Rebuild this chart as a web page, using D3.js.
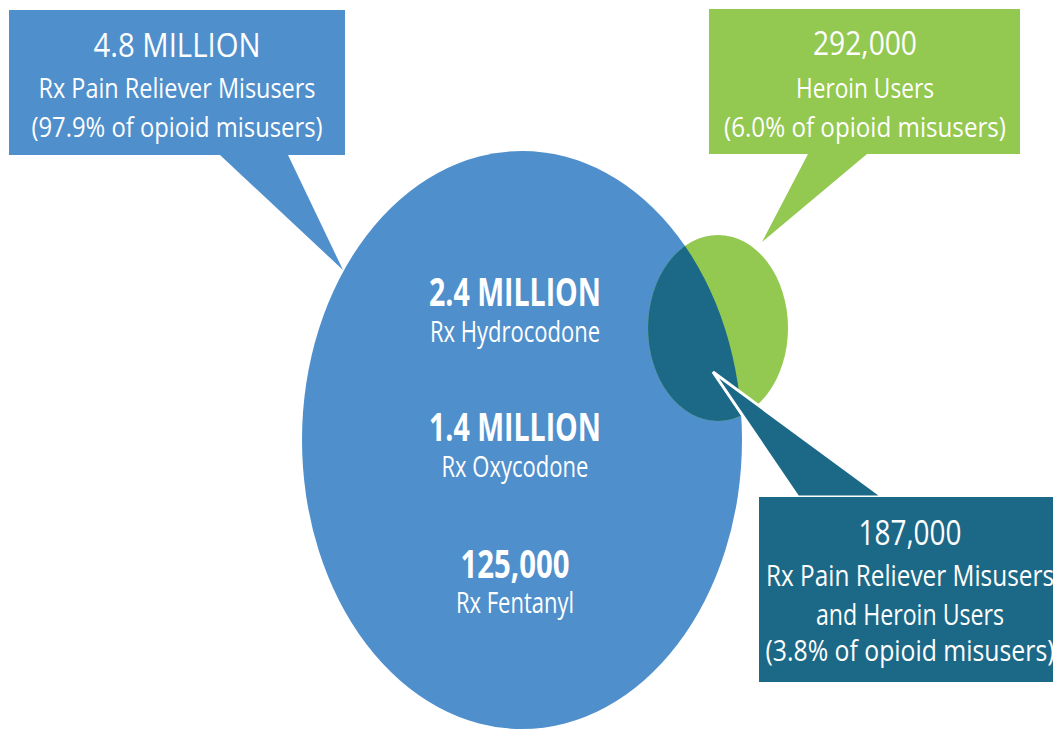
<!DOCTYPE html>
<html>
<head>
<meta charset="utf-8">
<script src="https://cdn.jsdelivr.net/npm/d3@7"></script>
<style>
  html, body { margin: 0; padding: 0; background: #fff; }
  svg { display: block; }
  text { font-family: "Open Sans", "Noto Sans", sans-serif; fill: #fff; }
</style>
</head>
<body>
<script>
// opioid misuse groups (callouts)
const groupCounts = [4800000, 292000, 187000]
const groupLabels = [["Rx Pain Reliever Misusers"], ["Heroin Users"], ["Rx Pain Reliever Misusers", "and Heroin Users"]]
const groupShares = [97.9, 6.0, 3.8]

// Rx pain relievers inside the big circle
const drugNames = ["Rx Hydrocodone", "Rx Oxycodone", "Rx Fentanyl"]
const drugCounts = [2400000, 1400000, 125000]

const width = 1053
const height = 730
const colors = { blue: "#4f8fcc", green: "#93c851", teal: "#1c6987" }

const fmtCount = v => v >= 1e6 ? d3.format(".1f")(v / 1e6) + " MILLION" : d3.format(",")(v)
const fmtShare = p => "(" + d3.format(".1f")(p) + "% of opioid misusers)"

// geometry of the two sets
const big = { cx: 522, cy: 440, rx: 220, ry: 289 }
const small = { cx: 718, cy: 328, rx: 70, ry: 93 }

// callout boxes: [x0, y0, x1, y1], tail points, text centre, line baselines / widths
const callouts = [
    { box: [9, 10, 345, 155], tail: [[220, 155], [343, 270], [288, 155]], color: colors.blue, cx: 177,
      lines: [{ y: 57, size: 33, w: 167 }, { y: 98, size: 28, w: 277 }, { y: 137, size: 28, w: 291 }] },
    { box: [709, 9, 1020, 154], tail: [[808, 154], [762, 242], [867, 154]], color: colors.green, cx: 865,
      lines: [{ y: 55, size: 33, w: 104 }, { y: 98, size: 28, w: 138 }, { y: 137, size: 28, w: 282 }] },
    { box: [759, 497, 1070, 682], tail: [[798, 497], [713, 372], [883, 497]], color: colors.teal, cx: 910, outline: true,
      lines: [{ y: 545, size: 34, w: 103 }, { y: 586, size: 29, w: 288 }, { y: 625, size: 29, w: 188 }, { y: 661, size: 29, w: 289 }] }
]

const drugLayout = { cx: 515, lines: [
    { y: 306, size: 39, w: 172 }, { y: 342, size: 30, w: 170 },
    { y: 441, size: 39, w: 172 }, { y: 477, size: 30, w: 147 },
    { y: 578, size: 39, w: 109 }, { y: 613, size: 30, w: 118 }
] }

const svg = d3.select("body").append("svg")
    .attr("width", width)
    .attr("height", height)

svg.append("defs").append("clipPath").attr("id", "bigClip")
    .append("ellipse")
    .attr("cx", big.cx).attr("cy", big.cy).attr("rx", big.rx).attr("ry", big.ry)

// sets
svg.append("ellipse")
    .attr("cx", big.cx).attr("cy", big.cy).attr("rx", big.rx).attr("ry", big.ry)
    .attr("fill", colors.blue)
svg.append("ellipse")
    .attr("cx", small.cx).attr("cy", small.cy).attr("rx", small.rx).attr("ry", small.ry)
    .attr("fill", colors.green)
// overlap
svg.append("ellipse")
    .attr("clip-path", "url(#bigClip)")
    .attr("cx", small.cx).attr("cy", small.cy).attr("rx", small.rx).attr("ry", small.ry)
    .attr("fill", colors.teal)

function addText(g, str, x, l, bold) {
    const t = g.append("text")
        .attr("x", x)
        .attr("y", l.y)
        .attr("text-anchor", "middle")
        .attr("font-size", l.size)
        .attr("font-weight", bold ? 700 : 400)
        .text(str)
    t.attr("textLength", l.w).attr("lengthAdjust", "spacingAndGlyphs")
    return t
}

// callouts
callouts.forEach((c, i) => {
    const g = svg.append("g")
    g.append("path")
        .attr("d", d3.line()(c.tail) + "Z")
        .attr("fill", c.color)
        .attr("stroke", c.outline ? "#fff" : "none")
        .attr("stroke-width", 3)
        .attr("stroke-linejoin", "miter")
    g.append("rect")
        .attr("x", c.box[0]).attr("y", c.box[1])
        .attr("width", c.box[2] - c.box[0]).attr("height", c.box[3] - c.box[1])
        .attr("fill", c.color)
    const strs = [fmtCount(groupCounts[i]), ...groupLabels[i], fmtShare(groupShares[i])]
    strs.forEach((s, j) => addText(g, s, c.cx, c.lines[j], false))
})

// drug labels inside the big set
const dg = svg.append("g")
drugNames.forEach((name, i) => {
    addText(dg, fmtCount(drugCounts[i]), drugLayout.cx, drugLayout.lines[i * 2], true)
    addText(dg, name, drugLayout.cx, drugLayout.lines[i * 2 + 1], false)
})
</script>
</body>
</html>
